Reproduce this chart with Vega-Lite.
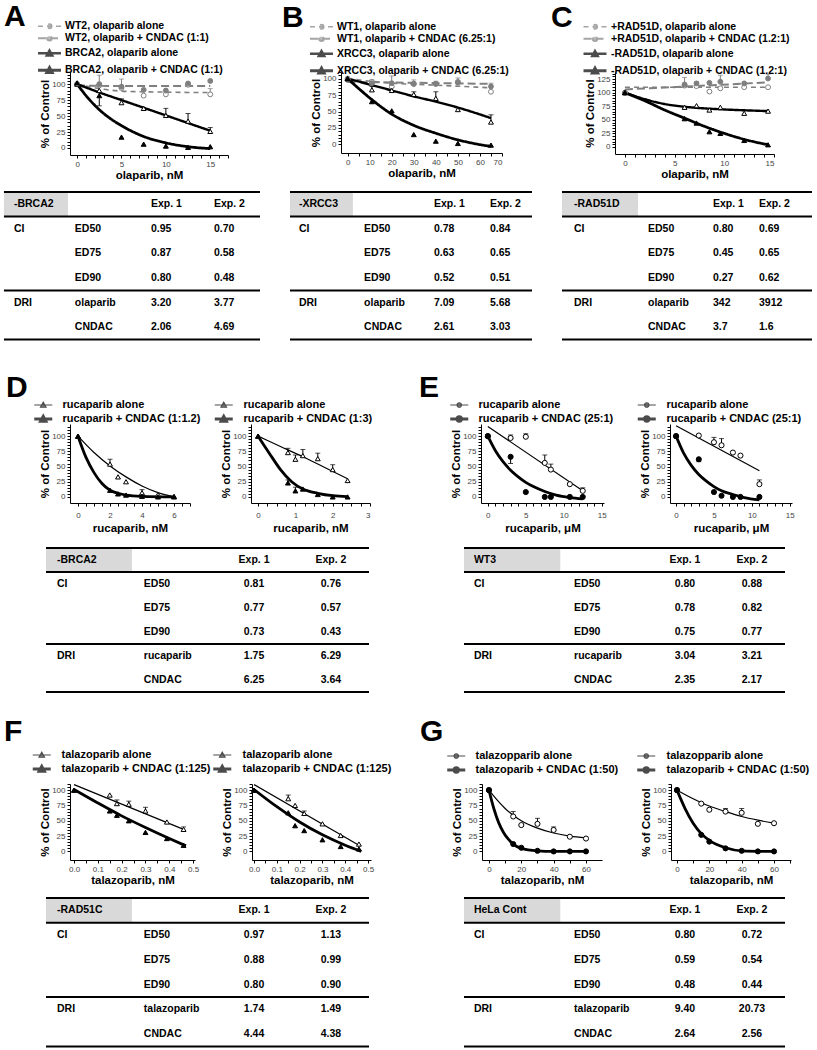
{
"$schema": "https://vega.github.io/schema/vega-lite/v6.json",
"padding": {"left": 2, "top": 2, "right": 0, "bottom": 0},
"background": "white",
"spacing": 4,
"config": {
 "font": "Liberation Sans",
 "view": {"stroke": null},
 "axis": {"labelFontSize": 8, "labelColor": "#444444", "titleFontSize": 11.5, "titleFontWeight": "bold", "titleColor": "black", "tickSize": 3, "domainColor": "black", "tickColor": "black", "labelPadding": 2, "titlePadding": 1, "grid": false, "labelOverlap": false},
 "legend": {"orient": "none", "padding": 0, "symbolSize": 36, "symbolOffset": 0, "rowPadding": 0, "labelFontWeight": "bold", "labelColor": "black", "labelLimit": 400, "direction": "vertical", "symbolStrokeWidth": 1.5},
 "title": {"fontSize": 30, "fontWeight": "bold", "color": "black", "anchor": "start", "frame": "group"}
},
"resolve": {"scale": {"color": "independent", "fill": "independent", "shape": "independent", "strokeDash": "independent", "strokeWidth": "independent"}, "legend": {"color": "independent"}},
"datasets": {
 "cA": [
  {"s":"g1","x":0,"y":100},{"s":"g1","x":2.5,"y":93},{"s":"g1","x":5,"y":89},{"s":"g1","x":7.5,"y":88},{"s":"g1","x":10,"y":87.5},{"s":"g1","x":12.5,"y":87},{"s":"g1","x":15,"y":87},
  {"s":"g2","x":0,"y":98},{"s":"g2","x":5,"y":97},{"s":"g2","x":10,"y":97},{"s":"g2","x":15,"y":97},
  {"s":"k1","x":0,"y":100},{"s":"k1","x":2.5,"y":87},{"s":"k1","x":5,"y":75},{"s":"k1","x":7.5,"y":63},{"s":"k1","x":10,"y":51},{"s":"k1","x":12.5,"y":39},{"s":"k1","x":15,"y":27},
  {"s":"k2","x":0,"y":100},{"s":"k2","x":1.25,"y":78},{"s":"k2","x":2.5,"y":60},{"s":"k2","x":3.75,"y":46},{"s":"k2","x":5,"y":35},{"s":"k2","x":7.5,"y":18},{"s":"k2","x":10,"y":8},{"s":"k2","x":12.5,"y":2},{"s":"k2","x":15,"y":-1}
 ],
 "pA": [
  {"s":"g1","x":0,"y":100},{"s":"g1","x":2.5,"y":98},{"s":"g1","x":5,"y":94},{"s":"g1","x":7.5,"y":82},{"s":"g1","x":10,"y":84},{"s":"g1","x":12.5,"y":99},{"s":"g1","x":15,"y":84,"e":93},
  {"s":"g2","x":0,"y":100},{"s":"g2","x":2.5,"y":100,"e":114},{"s":"g2","x":5,"y":96,"e":108},{"s":"g2","x":7.5,"y":91},{"s":"g2","x":10,"y":90},{"s":"g2","x":12.5,"y":101},{"s":"g2","x":15,"y":105},
  {"s":"k1","x":0,"y":100},{"s":"k1","x":2.5,"y":90},{"s":"k1","x":5,"y":71,"e":77},{"s":"k1","x":7.5,"y":62},{"s":"k1","x":10,"y":51,"e":62},{"s":"k1","x":12.5,"y":42,"e":54},{"s":"k1","x":15,"y":26,"e":32},
  {"s":"k2","x":0,"y":102},{"s":"k2","x":2.5,"y":82,"e":66},{"s":"k2","x":5,"y":17},{"s":"k2","x":7.5,"y":6},{"s":"k2","x":10,"y":3},{"s":"k2","x":12.5,"y":1},{"s":"k2","x":15,"y":2}
 ],
 "cB": [
  {"s":"g1","x":0,"y":100},{"s":"g1","x":20,"y":93},{"s":"g1","x":40,"y":90},{"s":"g1","x":65,"y":86},
  {"s":"g2","x":0,"y":95},{"s":"g2","x":65,"y":92},
  {"s":"k1","x":0,"y":100},{"s":"k1","x":10,"y":91},{"s":"k1","x":20,"y":82},{"s":"k1","x":30,"y":73},{"s":"k1","x":40,"y":65},{"s":"k1","x":50,"y":56},{"s":"k1","x":65,"y":40},
  {"s":"k2","x":0,"y":100},{"s":"k2","x":5,"y":85},{"s":"k2","x":11,"y":68},{"s":"k2","x":20,"y":46},{"s":"k2","x":30,"y":29},{"s":"k2","x":40,"y":17},{"s":"k2","x":50,"y":7},{"s":"k2","x":58,"y":1},{"s":"k2","x":65,"y":-3}
 ],
 "pB": [
  {"s":"g1","x":0,"y":100},{"s":"g1","x":11,"y":95},{"s":"g1","x":20,"y":88},{"s":"g1","x":30,"y":92},{"s":"g1","x":40,"y":92},{"s":"g1","x":50,"y":95},{"s":"g1","x":65,"y":80},
  {"s":"g2","x":0,"y":98},{"s":"g2","x":11,"y":93,"e":98},{"s":"g2","x":20,"y":93,"e":104},{"s":"g2","x":30,"y":92,"e":98},{"s":"g2","x":40,"y":92,"e":96},{"s":"g2","x":50,"y":94,"e":101},{"s":"g2","x":65,"y":88,"e":93},
  {"s":"k1","x":0,"y":100},{"s":"k1","x":11,"y":83,"e":88},{"s":"k1","x":20,"y":82,"e":87},{"s":"k1","x":30,"y":76,"e":80},{"s":"k1","x":40,"y":70,"e":80},{"s":"k1","x":50,"y":53,"e":56},{"s":"k1","x":65,"y":34,"e":45},
  {"s":"k2","x":0,"y":100},{"s":"k2","x":11,"y":65},{"s":"k2","x":20,"y":51},{"s":"k2","x":30,"y":15},{"s":"k2","x":40,"y":5},{"s":"k2","x":50,"y":1.5},{"s":"k2","x":65,"y":-1}
 ],
 "cC": [
  {"s":"g1","x":0,"y":110},{"s":"g1","x":14.4,"y":110},
  {"s":"g2","x":0,"y":106},{"s":"g2","x":7,"y":112},{"s":"g2","x":14.4,"y":119},
  {"s":"k1","x":0,"y":100},{"s":"k1","x":2,"y":88},{"s":"k1","x":4,"y":79},{"s":"k1","x":6,"y":74},{"s":"k1","x":8,"y":71},{"s":"k1","x":10,"y":69},{"s":"k1","x":12,"y":67.5},{"s":"k1","x":14.4,"y":66},
  {"s":"k2","x":0,"y":100},{"s":"k2","x":2,"y":85},{"s":"k2","x":4,"y":68},{"s":"k2","x":6,"y":53},{"s":"k2","x":8,"y":38},{"s":"k2","x":10,"y":25},{"s":"k2","x":12,"y":14},{"s":"k2","x":14.4,"y":4}
 ],
 "pC": [
  {"s":"g1","x":0,"y":100},{"s":"g1","x":6,"y":113},{"s":"g1","x":7.2,"y":112},{"s":"g1","x":8.5,"y":102},{"s":"g1","x":9.6,"y":108},{"s":"g1","x":12,"y":110},{"s":"g1","x":14.4,"y":110},
  {"s":"g2","x":0,"y":100},{"s":"g2","x":6,"y":115,"e":128},{"s":"g2","x":7.2,"y":117,"e":120},{"s":"g2","x":8.5,"y":118},{"s":"g2","x":9.6,"y":120,"e":132},{"s":"g2","x":12,"y":117},{"s":"g2","x":14.4,"y":126,"e":134},
  {"s":"k1","x":0,"y":100},{"s":"k1","x":6,"y":73},{"s":"k1","x":7.2,"y":76},{"s":"k1","x":8.5,"y":68},{"s":"k1","x":9.6,"y":73},{"s":"k1","x":12,"y":62},{"s":"k1","x":14.4,"y":66},
  {"s":"k2","x":0,"y":100},{"s":"k2","x":6,"y":52},{"s":"k2","x":7.2,"y":44},{"s":"k2","x":8.5,"y":28},{"s":"k2","x":9.6,"y":25},{"s":"k2","x":12,"y":12},{"s":"k2","x":14.4,"y":4}
 ],
 "cD1": [
  {"s":"k1","x":0,"y":100},{"s":"k1","x":1,"y":73},{"s":"k1","x":2,"y":51},{"s":"k1","x":3,"y":33},{"s":"k1","x":4,"y":18},{"s":"k1","x":5,"y":7},{"s":"k1","x":6,"y":0},
  {"s":"k2","x":0,"y":100},{"s":"k2","x":0.5,"y":65},{"s":"k2","x":1,"y":40},{"s":"k2","x":1.5,"y":22},{"s":"k2","x":2,"y":11},{"s":"k2","x":2.5,"y":6},{"s":"k2","x":3,"y":3},{"s":"k2","x":4,"y":1},{"s":"k2","x":6,"y":0}
 ],
 "pD1": [
  {"s":"k1","x":0,"y":100},{"s":"k1","x":2,"y":54,"e":62},{"s":"k1","x":2.5,"y":33},{"s":"k1","x":3,"y":25},{"s":"k1","x":4,"y":7,"e":12},{"s":"k1","x":5,"y":4},{"s":"k1","x":6,"y":1},
  {"s":"k2","x":0,"y":100},{"s":"k2","x":2,"y":11},{"s":"k2","x":2.5,"y":5},{"s":"k2","x":3,"y":3},{"s":"k2","x":4,"y":1},{"s":"k2","x":5,"y":0},{"s":"k2","x":6,"y":0}
 ],
 "cD2": [
  {"s":"k1","x":0,"y":100},{"s":"k1","x":0.6,"y":83},{"s":"k1","x":1.2,"y":66},{"s":"k1","x":1.8,"y":48},{"s":"k1","x":2.4,"y":30},
  {"s":"k2","x":0,"y":100},{"s":"k2","x":0.3,"y":72},{"s":"k2","x":0.6,"y":45},{"s":"k2","x":0.9,"y":25},{"s":"k2","x":1.2,"y":13},{"s":"k2","x":1.6,"y":6},{"s":"k2","x":2,"y":2},{"s":"k2","x":2.4,"y":0.5}
 ],
 "pD2": [
  {"s":"k1","x":0,"y":100},{"s":"k1","x":0.8,"y":73,"e":80},{"s":"k1","x":1,"y":62,"e":69},{"s":"k1","x":1.2,"y":68,"e":78},{"s":"k1","x":1.6,"y":63,"e":72},{"s":"k1","x":2,"y":45,"e":53},{"s":"k1","x":2.4,"y":27},
  {"s":"k2","x":0,"y":100},{"s":"k2","x":0.8,"y":23,"e":28},{"s":"k2","x":1,"y":10,"e":16},{"s":"k2","x":1.2,"y":13},{"s":"k2","x":1.6,"y":4},{"s":"k2","x":2,"y":0},{"s":"k2","x":2.4,"y":0}
 ],
 "cE1": [
  {"s":"k1","x":0,"y":116},{"s":"k1","x":12.5,"y":10},
  {"s":"k2","x":0,"y":100},{"s":"k2","x":1,"y":76},{"s":"k2","x":2,"y":58},{"s":"k2","x":3,"y":44},{"s":"k2","x":4,"y":33},{"s":"k2","x":5,"y":24},{"s":"k2","x":6,"y":17},{"s":"k2","x":7.5,"y":9},{"s":"k2","x":9,"y":3},{"s":"k2","x":10.8,"y":-1},{"s":"k2","x":12.5,"y":-3}
 ],
 "pE1": [
  {"s":"k1","x":0,"y":100},{"s":"k1","x":3,"y":97,"e":102},{"s":"k1","x":5,"y":99,"e":104},{"s":"k1","x":7.5,"y":56,"e":69},{"s":"k1","x":8.3,"y":45,"e":54},{"s":"k1","x":10.8,"y":21},{"s":"k1","x":12.5,"y":10,"e":15},
  {"s":"k2","x":0,"y":100},{"s":"k2","x":3,"y":66,"e":55},{"s":"k2","x":5,"y":8},{"s":"k2","x":7.5,"y":0},{"s":"k2","x":8.3,"y":0},{"s":"k2","x":10.8,"y":0},{"s":"k2","x":12.5,"y":0}
 ],
 "cE2": [
  {"s":"k1","x":0,"y":117},{"s":"k1","x":11,"y":43},
  {"s":"k2","x":0,"y":100},{"s":"k2","x":1,"y":72},{"s":"k2","x":2,"y":52},{"s":"k2","x":3,"y":37},{"s":"k2","x":4,"y":26},{"s":"k2","x":5,"y":17},{"s":"k2","x":6,"y":10},{"s":"k2","x":7.5,"y":4},{"s":"k2","x":9,"y":-1},{"s":"k2","x":11,"y":-5}
 ],
 "pE2": [
  {"s":"k1","x":0,"y":100},{"s":"k1","x":3,"y":101},{"s":"k1","x":5,"y":90,"e":98},{"s":"k1","x":6,"y":85,"e":96},{"s":"k1","x":7.5,"y":73},{"s":"k1","x":8.5,"y":68},{"s":"k1","x":11,"y":21,"e":28},
  {"s":"k2","x":0,"y":100},{"s":"k2","x":3,"y":62,"e":58},{"s":"k2","x":5,"y":8},{"s":"k2","x":6,"y":2},{"s":"k2","x":7.5,"y":0},{"s":"k2","x":8.5,"y":0},{"s":"k2","x":11,"y":0}
 ],
 "cF1": [
  {"s":"k1","x":0,"y":109},{"s":"k1","x":0.46,"y":36},
  {"s":"k2","x":0,"y":101},{"s":"k2","x":0.1,"y":79},{"s":"k2","x":0.2,"y":58},{"s":"k2","x":0.3,"y":39},{"s":"k2","x":0.4,"y":21},{"s":"k2","x":0.47,"y":9}
 ],
 "pF1": [
  {"s":"k1","x":0,"y":100},{"s":"k1","x":0.15,"y":92},{"s":"k1","x":0.18,"y":78,"e":84},{"s":"k1","x":0.23,"y":77,"e":82},{"s":"k1","x":0.3,"y":66,"e":72},{"s":"k1","x":0.39,"y":48},{"s":"k1","x":0.46,"y":36,"e":40},
  {"s":"k2","x":0,"y":100},{"s":"k2","x":0.15,"y":66},{"s":"k2","x":0.18,"y":59},{"s":"k2","x":0.23,"y":50},{"s":"k2","x":0.3,"y":31},{"s":"k2","x":0.39,"y":21},{"s":"k2","x":0.46,"y":10}
 ],
 "cF2": [
  {"s":"k1","x":0,"y":109},{"s":"k1","x":0.46,"y":10},
  {"s":"k2","x":0,"y":101},{"s":"k2","x":0.1,"y":73},{"s":"k2","x":0.2,"y":48},{"s":"k2","x":0.3,"y":27},{"s":"k2","x":0.4,"y":10},{"s":"k2","x":0.47,"y":0}
 ],
 "pF2": [
  {"s":"k1","x":0,"y":100},{"s":"k1","x":0.15,"y":86,"e":92},{"s":"k1","x":0.18,"y":75},{"s":"k1","x":0.22,"y":62,"e":66},{"s":"k1","x":0.3,"y":45},{"s":"k1","x":0.38,"y":26},{"s":"k1","x":0.46,"y":12},
  {"s":"k2","x":0,"y":100},{"s":"k2","x":0.15,"y":63},{"s":"k2","x":0.18,"y":42},{"s":"k2","x":0.22,"y":34},{"s":"k2","x":0.3,"y":19},{"s":"k2","x":0.38,"y":8},{"s":"k2","x":0.46,"y":4}
 ],
 "cG1": [
  {"s":"k1","x":0,"y":100},{"s":"k1","x":5,"y":84},{"s":"k1","x":10,"y":70},{"s":"k1","x":15,"y":59},{"s":"k1","x":20,"y":50},{"s":"k1","x":30,"y":38},{"s":"k1","x":40,"y":30},{"s":"k1","x":50,"y":25},{"s":"k1","x":60,"y":22},
  {"s":"k2","x":0,"y":100},{"s":"k2","x":3,"y":70},{"s":"k2","x":6,"y":47},{"s":"k2","x":9,"y":31},{"s":"k2","x":12,"y":20},{"s":"k2","x":15,"y":12},{"s":"k2","x":20,"y":5},{"s":"k2","x":30,"y":1},{"s":"k2","x":40,"y":0},{"s":"k2","x":60,"y":0}
 ],
 "pG1": [
  {"s":"k1","x":0,"y":100},{"s":"k1","x":15,"y":57,"e":65},{"s":"k1","x":20,"y":43},{"s":"k1","x":30,"y":45,"e":54},{"s":"k1","x":40,"y":35,"e":40},{"s":"k1","x":50,"y":24},{"s":"k1","x":60,"y":21},
  {"s":"k2","x":0,"y":100},{"s":"k2","x":15,"y":12},{"s":"k2","x":20,"y":6},{"s":"k2","x":30,"y":1},{"s":"k2","x":40,"y":0},{"s":"k2","x":50,"y":0},{"s":"k2","x":60,"y":0}
 ],
 "cG2": [
  {"s":"k1","x":0,"y":100},{"s":"k1","x":10,"y":86},{"s":"k1","x":20,"y":74},{"s":"k1","x":30,"y":65},{"s":"k1","x":40,"y":57},{"s":"k1","x":50,"y":51},{"s":"k1","x":60,"y":46},
  {"s":"k2","x":0,"y":100},{"s":"k2","x":5,"y":70},{"s":"k2","x":10,"y":46},{"s":"k2","x":15,"y":29},{"s":"k2","x":20,"y":18},{"s":"k2","x":30,"y":6},{"s":"k2","x":40,"y":1},{"s":"k2","x":60,"y":0}
 ],
 "pG2": [
  {"s":"k1","x":0,"y":100},{"s":"k1","x":15,"y":78},{"s":"k1","x":20,"y":68},{"s":"k1","x":30,"y":65,"e":70},{"s":"k1","x":40,"y":63,"e":70},{"s":"k1","x":50,"y":45},{"s":"k1","x":60,"y":46},
  {"s":"k2","x":0,"y":100},{"s":"k2","x":15,"y":27},{"s":"k2","x":20,"y":16},{"s":"k2","x":30,"y":5},{"s":"k2","x":40,"y":1},{"s":"k2","x":50,"y":0},{"s":"k2","x":60,"y":0}
 ],
 "tA": [{"r":0,"a":"-BRCA2","b":"","e1":"Exp. 1","e2":"Exp. 2"},{"r":1,"a":"CI","b":"ED50","e1":"0.95","e2":"0.70"},{"r":2,"a":"","b":"ED75","e1":"0.87","e2":"0.58"},{"r":3,"a":"","b":"ED90","e1":"0.80","e2":"0.48"},{"r":4,"a":"DRI","b":"olaparib","e1":"3.20","e2":"3.77"},{"r":5,"a":"","b":"CNDAC","e1":"2.06","e2":"4.69"}],
 "tB": [{"r":0,"a":"-XRCC3","b":"","e1":"Exp. 1","e2":"Exp. 2"},{"r":1,"a":"CI","b":"ED50","e1":"0.78","e2":"0.84"},{"r":2,"a":"","b":"ED75","e1":"0.63","e2":"0.65"},{"r":3,"a":"","b":"ED90","e1":"0.52","e2":"0.51"},{"r":4,"a":"DRI","b":"olaparib","e1":"7.09","e2":"5.68"},{"r":5,"a":"","b":"CNDAC","e1":"2.61","e2":"3.03"}],
 "tC": [{"r":0,"a":"-RAD51D","b":"","e1":"Exp. 1","e2":"Exp. 2"},{"r":1,"a":"CI","b":"ED50","e1":"0.80","e2":"0.69"},{"r":2,"a":"","b":"ED75","e1":"0.45","e2":"0.65"},{"r":3,"a":"","b":"ED90","e1":"0.27","e2":"0.62"},{"r":4,"a":"DRI","b":"olaparib","e1":"342","e2":"3912"},{"r":5,"a":"","b":"CNDAC","e1":"3.7","e2":"1.6"}],
 "tD": [{"r":0,"a":"-BRCA2","b":"","e1":"Exp. 1","e2":"Exp. 2"},{"r":1,"a":"CI","b":"ED50","e1":"0.81","e2":"0.76"},{"r":2,"a":"","b":"ED75","e1":"0.77","e2":"0.57"},{"r":3,"a":"","b":"ED90","e1":"0.73","e2":"0.43"},{"r":4,"a":"DRI","b":"rucaparib","e1":"1.75","e2":"6.29"},{"r":5,"a":"","b":"CNDAC","e1":"6.25","e2":"3.64"}],
 "tE": [{"r":0,"a":"WT3","b":"","e1":"Exp. 1","e2":"Exp. 2"},{"r":1,"a":"CI","b":"ED50","e1":"0.80","e2":"0.88"},{"r":2,"a":"","b":"ED75","e1":"0.78","e2":"0.82"},{"r":3,"a":"","b":"ED90","e1":"0.75","e2":"0.77"},{"r":4,"a":"DRI","b":"rucaparib","e1":"3.04","e2":"3.21"},{"r":5,"a":"","b":"CNDAC","e1":"2.35","e2":"2.17"}],
 "tF": [{"r":0,"a":"-RAD51C","b":"","e1":"Exp. 1","e2":"Exp. 2"},{"r":1,"a":"CI","b":"ED50","e1":"0.97","e2":"1.13"},{"r":2,"a":"","b":"ED75","e1":"0.88","e2":"0.99"},{"r":3,"a":"","b":"ED90","e1":"0.80","e2":"0.90"},{"r":4,"a":"DRI","b":"talazoparib","e1":"1.74","e2":"1.49"},{"r":5,"a":"","b":"CNDAC","e1":"4.44","e2":"4.38"}],
 "tG": [{"r":0,"a":"HeLa Cont","b":"","e1":"Exp. 1","e2":"Exp. 2"},{"r":1,"a":"CI","b":"ED50","e1":"0.80","e2":"0.72"},{"r":2,"a":"","b":"ED75","e1":"0.59","e2":"0.54"},{"r":3,"a":"","b":"ED90","e1":"0.48","e2":"0.44"},{"r":4,"a":"DRI","b":"talazoparib","e1":"9.40","e2":"20.73"},{"r":5,"a":"","b":"CNDAC","e1":"2.64","e2":"2.56"}],
 "lines": [{"lb":-0.5},{"lb":0.5},{"lb":3.5},{"lb":5.5}],
 "box": [{"lb":-0.5}]
},
"vconcat": [
 {"hconcat": [
  {"width":158,"height":83,
   "title":{"text":"A","offset":-11,"dx":-66},
   "encoding":{
    "x":{"field":"x","type":"quantitative","title":"olaparib, nM","scale":{"domain":[-0.8,17],"nice":false,"zero":false},"axis":{"values":[0,1,2,3,4,5,6,7,8,9,10,11,12,13,14,15,16,17],"labelExpr":"datum.value % 5 == 0 ? datum.label : ''"}},
    "y":{"field":"y","type":"quantitative","title":"% of Control","scale":{"domain":[-11,119],"nice":false,"zero":false},"axis":{"values":[0,5,10,15,20,25,30,35,40,45,50,55,60,65,70,75,80,85,90,95,100,105,110,115],"labelExpr":"datum.value % 25 == 0 ? datum.label : ''"}},
    "color":{"field":"s","type":"nominal","scale":{"domain":["g1","g2","k1","k2"],"range":["#7f7f7f","#7f7f7f","#000000","#000000"]},
     "legend":{"legendX":-25.75,"legendY":-51,"title":null,"labelOffset":10.25,"labelFontSize":10.5,
      "labelExpr":"datum.value=='g1'?'WT2, olaparib alone':datum.value=='g2'?'WT2, olaparib + CNDAC  (1:1)':datum.value=='k1'?'BRCA2, olaparib alone':'BRCA2, olaparib + CNDAC (1:1)'"}}
   },
   "layer":[
    {"data":{"name":"cA"},"mark":{"type":"line","interpolate":"monotone"},"encoding":{"strokeDash":{"field":"s","type":"nominal","scale":{"domain":["g1","g2","k1","k2"],"range":[[5,4],[8,4],[1,0],[1,0]]},"legend":null},"strokeWidth":{"field":"s","type":"nominal","scale":{"domain":["g1","g2","k1","k2"],"range":[1.6,2.8,1.2,2.6]},"legend":null}}},
    {"data":{"name":"cA"},"mark":{"type":"point","size":0},"encoding":{"shape":{"field":"s","type":"nominal","scale":{"domain":["g1","g2","k1","k2"],"range":["M-3.83,0H3.83M0.75,0A0.75,0.75,0,1,1,-0.75,0A0.75,0.75,0,1,1,0.75,0Z","M-3.83,0H3.83M0.75,0A0.75,0.75,0,1,1,-0.75,0A0.75,0.75,0,1,1,0.75,0Z","M-3.83,0H3.83M-0.92,0.75L0,-0.92L0.92,0.75Z","M-3.83,0H3.83M-0.92,0.75L0,-0.92L0.92,0.75Z"]},"legend":null},"fill":{"field":"s","type":"nominal","scale":{"domain":["g1","g2","k1","k2"],"range":["#ffffff","#7f7f7f","#ffffff","#000000"]},"legend":null}}},
    {"data":{"name":"pA"},"transform":[{"filter":"isValid(datum.e)"}],"mark":{"type":"rule","strokeWidth":1},"encoding":{"y2":{"field":"e"}}},
    {"data":{"name":"pA"},"transform":[{"filter":"isValid(datum.e)"}],"mark":{"type":"tick","orient":"horizontal","size":5,"thickness":1},"encoding":{"y":{"field":"e","type":"quantitative","title":"% of Control","scale":{"domain":[-11,119],"nice":false,"zero":false}}}},
    {"data":{"name":"pA"},"mark":{"type":"point","size":24,"strokeWidth":1,"opacity":1},"encoding":{"shape":{"condition":{"test":"test(/^g/, datum.s)","value":"circle"},"value":"triangle-up"},"fill":{"condition":[{"test":"test(/1$/, datum.s)","value":"#ffffff"},{"test":"datum.s=='g2'","value":"#7f7f7f"}],"value":"#000000"}}}
   ]},
  {"width":161,"height":81,
   "title":{"text":"B","offset":-11,"dx":-59},
   "encoding":{
    "x":{"field":"x","type":"quantitative","title":"olaparib, nM","scale":{"domain":[-3,70],"nice":false,"zero":false},"axis":{"values":[0,5,10,15,20,25,30,35,40,45,50,55,60,65,70],"labelExpr":"datum.value % 10 == 0 ? datum.label : ''"}},
    "y":{"field":"y","type":"quantitative","title":"% of Control","scale":{"domain":[-13,110],"nice":false,"zero":false},"axis":{"values":[0,5,10,15,20,25,30,35,40,45,50,55,60,65,70,75,80,85,90,95,100,105,110],"labelExpr":"datum.value % 25 == 0 ? datum.label : ''"}},
    "color":{"field":"s","type":"nominal","scale":{"domain":["g1","g2","k1","k2"],"range":["#7f7f7f","#7f7f7f","#000000","#000000"]},
     "legend":{"legendX":-24.75,"legendY":-50.5,"title":null,"labelOffset":10.25,"labelFontSize":10.5,
      "labelExpr":"datum.value=='g1'?'WT1, olaparib alone':datum.value=='g2'?'WT1, olaparib + CNDAC  (6.25:1)':datum.value=='k1'?'XRCC3, olaparib alone':'XRCC3, olaparib + CNDAC (6.25:1)'"}}
   },
   "layer":[
    {"data":{"name":"cB"},"mark":{"type":"line","interpolate":"monotone"},"encoding":{"strokeDash":{"field":"s","type":"nominal","scale":{"domain":["g1","g2","k1","k2"],"range":[[5,4],[8,4],[1,0],[1,0]]},"legend":null},"strokeWidth":{"field":"s","type":"nominal","scale":{"domain":["g1","g2","k1","k2"],"range":[1.6,2.8,1.2,2.6]},"legend":null}}},
    {"data":{"name":"cB"},"mark":{"type":"point","size":0},"encoding":{"shape":{"field":"s","type":"nominal","scale":{"domain":["g1","g2","k1","k2"],"range":["M-3.83,0H3.83M0.75,0A0.75,0.75,0,1,1,-0.75,0A0.75,0.75,0,1,1,0.75,0Z","M-3.83,0H3.83M0.75,0A0.75,0.75,0,1,1,-0.75,0A0.75,0.75,0,1,1,0.75,0Z","M-3.83,0H3.83M-0.92,0.75L0,-0.92L0.92,0.75Z","M-3.83,0H3.83M-0.92,0.75L0,-0.92L0.92,0.75Z"]},"legend":null},"fill":{"field":"s","type":"nominal","scale":{"domain":["g1","g2","k1","k2"],"range":["#ffffff","#7f7f7f","#ffffff","#000000"]},"legend":null}}},
    {"data":{"name":"pB"},"transform":[{"filter":"isValid(datum.e)"}],"mark":{"type":"rule","strokeWidth":1},"encoding":{"y2":{"field":"e"}}},
    {"data":{"name":"pB"},"transform":[{"filter":"isValid(datum.e)"}],"mark":{"type":"tick","orient":"horizontal","size":5,"thickness":1},"encoding":{"y":{"field":"e","type":"quantitative","title":"% of Control","scale":{"domain":[-13,110],"nice":false,"zero":false}}}},
    {"data":{"name":"pB"},"mark":{"type":"point","size":24,"strokeWidth":1,"opacity":1},"encoding":{"shape":{"condition":{"test":"test(/^g/, datum.s)","value":"circle"},"value":"triangle-up"},"fill":{"condition":[{"test":"test(/1$/, datum.s)","value":"#ffffff"},{"test":"datum.s=='g2'","value":"#7f7f7f"}],"value":"#000000"}}}
   ]},
  {"width":159,"height":82,
   "title":{"text":"C","offset":-11,"dx":-64},
   "encoding":{
    "x":{"field":"x","type":"quantitative","title":"olaparib, nM","scale":{"domain":[-1,15],"nice":false,"zero":false},"axis":{"values":[0,1,2,3,4,5,6,7,8,9,10,11,12,13,14,15],"labelExpr":"datum.value % 5 == 0 ? datum.label : ''"}},
    "y":{"field":"y","type":"quantitative","title":"% of Control","scale":{"domain":[-13,138],"nice":false,"zero":false},"axis":{"values":[0,5,10,15,20,25,30,35,40,45,50,55,60,65,70,75,80,85,90,95,100,105,110,115,120,125,130,135],"labelExpr":"datum.value % 25 == 0 ? datum.label : ''"}},
    "color":{"field":"s","type":"nominal","scale":{"domain":["g1","g2","k1","k2"],"range":["#7f7f7f","#7f7f7f","#000000","#000000"]},
     "legend":{"legendX":-25.25,"legendY":-50.5,"title":null,"labelOffset":10.75,"labelFontSize":10.5,
      "labelExpr":"datum.value=='g1'?'+RAD51D, olaparib alone':datum.value=='g2'?'+RAD51D, olaparib + CNDAC  (1.2:1)':datum.value=='k1'?'-RAD51D, olaparib alone':'-RAD51D, olaparib + CNDAC (1.2:1)'"}}
   },
   "layer":[
    {"data":{"name":"cC"},"mark":{"type":"line","interpolate":"monotone"},"encoding":{"strokeDash":{"field":"s","type":"nominal","scale":{"domain":["g1","g2","k1","k2"],"range":[[5,4],[8,4],[1,0],[1,0]]},"legend":null},"strokeWidth":{"field":"s","type":"nominal","scale":{"domain":["g1","g2","k1","k2"],"range":[1.6,2.8,1.2,2.6]},"legend":null}}},
    {"data":{"name":"cC"},"mark":{"type":"point","size":0},"encoding":{"shape":{"field":"s","type":"nominal","scale":{"domain":["g1","g2","k1","k2"],"range":["M-3.83,0H3.83M0.75,0A0.75,0.75,0,1,1,-0.75,0A0.75,0.75,0,1,1,0.75,0Z","M-3.83,0H3.83M0.75,0A0.75,0.75,0,1,1,-0.75,0A0.75,0.75,0,1,1,0.75,0Z","M-3.83,0H3.83M-0.92,0.75L0,-0.92L0.92,0.75Z","M-3.83,0H3.83M-0.92,0.75L0,-0.92L0.92,0.75Z"]},"legend":null},"fill":{"field":"s","type":"nominal","scale":{"domain":["g1","g2","k1","k2"],"range":["#ffffff","#7f7f7f","#ffffff","#000000"]},"legend":null}}},
    {"data":{"name":"pC"},"transform":[{"filter":"isValid(datum.e)"}],"mark":{"type":"rule","strokeWidth":1},"encoding":{"y2":{"field":"e"}}},
    {"data":{"name":"pC"},"transform":[{"filter":"isValid(datum.e)"}],"mark":{"type":"tick","orient":"horizontal","size":5,"thickness":1},"encoding":{"y":{"field":"e","type":"quantitative","title":"% of Control","scale":{"domain":[-13,138],"nice":false,"zero":false}}}},
    {"data":{"name":"pC"},"mark":{"type":"point","size":24,"strokeWidth":1,"opacity":1},"encoding":{"shape":{"condition":{"test":"test(/^g/, datum.s)","value":"circle"},"value":"triangle-up"},"fill":{"condition":[{"test":"test(/1$/, datum.s)","value":"#ffffff"},{"test":"datum.s=='g2'","value":"#7f7f7f"}],"value":"#000000"}}}
   ]}
 ], "spacing":113, "bounds":"flush",
 "resolve": {"scale": {"color": "independent", "fill": "independent", "shape": "independent", "strokeDash": "independent", "strokeWidth": "independent"}, "legend": {"color": "independent"}}},

 {"hconcat": [
  {"width":190,"height":183,"layer":[
   {"data":{"name":"box"},"mark":{"type":"rect","color":"#d9d9d9"},"encoding":{"x":{"datum":0,"type":"quantitative","scale":{"domain":[25.8,100]},"axis":null},"x2":{"datum":25},"y":{"field":"lb","type":"quantitative","scale":{"domain":[-0.784,6.655],"reverse":true},"axis":null},"y2":{"datum":0.5}}},
   {"data":{"name":"lines"},"mark":{"type":"rule","strokeWidth":2,"color":"black"},"encoding":{"x":{"datum":0,"type":"quantitative","scale":{"domain":[25.8,100]},"axis":null},"x2":{"datum":100},"y":{"field":"lb","type":"quantitative","scale":{"domain":[-0.784,6.655],"reverse":true},"axis":null}}},
   {"data":{"name":"tA"},"mark":{"type":"text","align":"left","baseline":"middle","fontWeight":"bold","fontSize":10.5},"encoding":{"x":{"datum":3.9,"type":"quantitative","scale":{"domain":[25.8,100]},"axis":null},"y":{"field":"r","type":"quantitative","scale":{"domain":[-0.784,6.655],"reverse":true},"axis":null},"text":{"field":"a"}}},
   {"data":{"name":"tA"},"mark":{"type":"text","align":"left","baseline":"middle","fontWeight":"bold","fontSize":10.5},"encoding":{"x":{"datum":27.7,"type":"quantitative","scale":{"domain":[25.8,100]},"axis":null},"y":{"field":"r","type":"quantitative","scale":{"domain":[-0.784,6.655],"reverse":true},"axis":null},"text":{"field":"b"}}},
   {"data":{"name":"tA"},"mark":{"type":"text","align":"left","baseline":"middle","fontWeight":"bold","fontSize":10.5},"encoding":{"x":{"datum":57.4,"type":"quantitative","scale":{"domain":[25.8,100]},"axis":null},"y":{"field":"r","type":"quantitative","scale":{"domain":[-0.784,6.655],"reverse":true},"axis":null},"text":{"field":"e1"}}},
   {"data":{"name":"tA"},"mark":{"type":"text","align":"left","baseline":"middle","fontWeight":"bold","fontSize":10.5},"encoding":{"x":{"datum":82,"type":"quantitative","scale":{"domain":[25.8,100]},"axis":null},"y":{"field":"r","type":"quantitative","scale":{"domain":[-0.784,6.655],"reverse":true},"axis":null},"text":{"field":"e2"}}}
  ]},
  {"width":242,"height":183,"layer":[
   {"data":{"name":"box"},"mark":{"type":"rect","color":"#d9d9d9"},"encoding":{"x":{"datum":0,"type":"quantitative","scale":{"domain":[0,100]},"axis":null},"x2":{"datum":26},"y":{"field":"lb","type":"quantitative","scale":{"domain":[-0.784,6.655],"reverse":true},"axis":null},"y2":{"datum":0.5}}},
   {"data":{"name":"lines"},"mark":{"type":"rule","strokeWidth":2,"color":"black"},"encoding":{"x":{"datum":0,"type":"quantitative","scale":{"domain":[0,100]},"axis":null},"x2":{"datum":100},"y":{"field":"lb","type":"quantitative","scale":{"domain":[-0.784,6.655],"reverse":true},"axis":null}}},
   {"data":{"name":"tB"},"mark":{"type":"text","align":"left","baseline":"middle","fontWeight":"bold","fontSize":10.5},"encoding":{"x":{"datum":3.7,"type":"quantitative","scale":{"domain":[0,100]},"axis":null},"y":{"field":"r","type":"quantitative","scale":{"domain":[-0.784,6.655],"reverse":true},"axis":null},"text":{"field":"a"}}},
   {"data":{"name":"tB"},"mark":{"type":"text","align":"left","baseline":"middle","fontWeight":"bold","fontSize":10.5},"encoding":{"x":{"datum":30.6,"type":"quantitative","scale":{"domain":[0,100]},"axis":null},"y":{"field":"r","type":"quantitative","scale":{"domain":[-0.784,6.655],"reverse":true},"axis":null},"text":{"field":"b"}}},
   {"data":{"name":"tB"},"mark":{"type":"text","align":"left","baseline":"middle","fontWeight":"bold","fontSize":10.5},"encoding":{"x":{"datum":59.5,"type":"quantitative","scale":{"domain":[0,100]},"axis":null},"y":{"field":"r","type":"quantitative","scale":{"domain":[-0.784,6.655],"reverse":true},"axis":null},"text":{"field":"e1"}}},
   {"data":{"name":"tB"},"mark":{"type":"text","align":"left","baseline":"middle","fontWeight":"bold","fontSize":10.5},"encoding":{"x":{"datum":82.6,"type":"quantitative","scale":{"domain":[0,100]},"axis":null},"y":{"field":"r","type":"quantitative","scale":{"domain":[-0.784,6.655],"reverse":true},"axis":null},"text":{"field":"e2"}}}
  ]},
  {"width":250,"height":183,"layer":[
   {"data":{"name":"box"},"mark":{"type":"rect","color":"#d9d9d9"},"encoding":{"x":{"datum":0,"type":"quantitative","scale":{"domain":[0,100]},"axis":null},"x2":{"datum":30.4},"y":{"field":"lb","type":"quantitative","scale":{"domain":[-0.784,6.655],"reverse":true},"axis":null},"y2":{"datum":0.5}}},
   {"data":{"name":"lines"},"mark":{"type":"rule","strokeWidth":2,"color":"black"},"encoding":{"x":{"datum":0,"type":"quantitative","scale":{"domain":[0,100]},"axis":null},"x2":{"datum":100},"y":{"field":"lb","type":"quantitative","scale":{"domain":[-0.784,6.655],"reverse":true},"axis":null}}},
   {"data":{"name":"tC"},"mark":{"type":"text","align":"left","baseline":"middle","fontWeight":"bold","fontSize":10.5},"encoding":{"x":{"datum":4.8,"type":"quantitative","scale":{"domain":[0,100]},"axis":null},"y":{"field":"r","type":"quantitative","scale":{"domain":[-0.784,6.655],"reverse":true},"axis":null},"text":{"field":"a"}}},
   {"data":{"name":"tC"},"mark":{"type":"text","align":"left","baseline":"middle","fontWeight":"bold","fontSize":10.5},"encoding":{"x":{"datum":34.4,"type":"quantitative","scale":{"domain":[0,100]},"axis":null},"y":{"field":"r","type":"quantitative","scale":{"domain":[-0.784,6.655],"reverse":true},"axis":null},"text":{"field":"b"}}},
   {"data":{"name":"tC"},"mark":{"type":"text","align":"left","baseline":"middle","fontWeight":"bold","fontSize":10.5},"encoding":{"x":{"datum":60.4,"type":"quantitative","scale":{"domain":[0,100]},"axis":null},"y":{"field":"r","type":"quantitative","scale":{"domain":[-0.784,6.655],"reverse":true},"axis":null},"text":{"field":"e1"}}},
   {"data":{"name":"tC"},"mark":{"type":"text","align":"left","baseline":"middle","fontWeight":"bold","fontSize":10.5},"encoding":{"x":{"datum":78.8,"type":"quantitative","scale":{"domain":[0,100]},"axis":null},"y":{"field":"r","type":"quantitative","scale":{"domain":[-0.784,6.655],"reverse":true},"axis":null},"text":{"field":"e2"}}}
  ]}
 ], "spacing":30, "bounds":"flush"},

 {"hconcat": [
  {"hconcat": [
   {"width":120,"height":79,
    "title":{"text":"D","offset":-3,"dx":-64},
    "encoding":{
     "x":{"field":"x","type":"quantitative","title":"rucaparib, nM","scale":{"domain":[-0.5,7],"nice":false,"zero":false},"axis":{"values":[0,0.5,1,1.5,2,2.5,3,3.5,4,4.5,5,5.5,6,6.5,7],"labelExpr":"datum.value % 2 == 0 ? toString(datum.value) : ''","labelPadding":5,"titlePadding":3}},
     "y":{"field":"y","type":"quantitative","title":"% of Control","scale":{"domain":[-10,120],"nice":false,"zero":false},"axis":{"values":[0,5,10,15,20,25,30,35,40,45,50,55,60,65,70,75,80,85,90,95,100,105,110,115],"labelExpr":"datum.value % 25 == 0 ? datum.label : ''"}},
     "color":{"field":"s","type":"nominal","scale":{"domain":["k1","k2"],"range":["#000000","#000000"]},
      "legend":{"legendX":-32.25,"legendY":-24.5,"title":null,"labelOffset":13.75,"labelFontSize":11,
       "labelExpr":"datum.value=='k1'?'rucaparib alone':'rucaparib + CNDAC (1:1.2)'"}}
    },
    "layer":[
     {"data":{"name":"cD1"},"mark":{"type":"line","interpolate":"monotone"},"encoding":{"strokeWidth":{"field":"s","type":"nominal","scale":{"domain":["k1","k2"],"range":[1.2,2.8]},"legend":null}}},
     {"data":{"name":"cD1"},"mark":{"type":"point","size":0},"encoding":{"shape":{"field":"s","type":"nominal","scale":{"domain":["k1","k2"],"range":["M-3,0H3M-0.92,0.75L0,-0.92L0.92,0.75Z","M-3,0H3M-0.92,0.75L0,-0.92L0.92,0.75Z"]},"legend":null},"fill":{"field":"s","type":"nominal","scale":{"domain":["k1","k2"],"range":["#ffffff","#000000"]},"legend":null}}},
     {"data":{"name":"pD1"},"transform":[{"filter":"isValid(datum.e)"}],"mark":{"type":"rule","strokeWidth":1},"encoding":{"y2":{"field":"e"}}},
     {"data":{"name":"pD1"},"transform":[{"filter":"isValid(datum.e)"}],"mark":{"type":"tick","orient":"horizontal","size":5,"thickness":1},"encoding":{"y":{"field":"e","type":"quantitative","title":"% of Control","scale":{"domain":[-10,120],"nice":false,"zero":false}}}},
     {"data":{"name":"pD1"},"mark":{"type":"point","size":24,"strokeWidth":1,"opacity":1,"shape":"triangle-up"},"encoding":{"fill":{"condition":{"test":"datum.s=='k1'","value":"#ffffff"},"value":"#000000"}}}
    ]},
   {"width":119,"height":79,
    "encoding":{
     "x":{"field":"x","type":"quantitative","title":"rucaparib, nM","scale":{"domain":[-0.19,3],"nice":false,"zero":false},"axis":{"values":[0,0.25,0.5,0.75,1,1.25,1.5,1.75,2,2.25,2.5,2.75,3],"labelExpr":"datum.value % 1 == 0 ? toString(datum.value) : ''","labelPadding":5,"titlePadding":3}},
     "y":{"field":"y","type":"quantitative","title":"% of Control","scale":{"domain":[-10,120],"nice":false,"zero":false},"axis":{"values":[0,5,10,15,20,25,30,35,40,45,50,55,60,65,70,75,80,85,90,95,100,105,110,115],"labelExpr":"datum.value % 25 == 0 ? datum.label : ''"}},
     "color":{"field":"s","type":"nominal","scale":{"domain":["k1","k2"],"range":["#000000","#000000"]},
      "legend":{"legendX":-32.75,"legendY":-24.5,"title":null,"labelOffset":14.25,"labelFontSize":11,
       "labelExpr":"datum.value=='k1'?'rucaparib alone':'rucaparib + CNDAC (1:3)'"}}
    },
    "layer":[
     {"data":{"name":"cD2"},"mark":{"type":"line","interpolate":"monotone"},"encoding":{"strokeWidth":{"field":"s","type":"nominal","scale":{"domain":["k1","k2"],"range":[1.2,2.8]},"legend":null}}},
     {"data":{"name":"cD2"},"mark":{"type":"point","size":0},"encoding":{"shape":{"field":"s","type":"nominal","scale":{"domain":["k1","k2"],"range":["M-3,0H3M-0.92,0.75L0,-0.92L0.92,0.75Z","M-3,0H3M-0.92,0.75L0,-0.92L0.92,0.75Z"]},"legend":null},"fill":{"field":"s","type":"nominal","scale":{"domain":["k1","k2"],"range":["#ffffff","#000000"]},"legend":null}}},
     {"data":{"name":"pD2"},"transform":[{"filter":"isValid(datum.e)"}],"mark":{"type":"rule","strokeWidth":1},"encoding":{"y2":{"field":"e"}}},
     {"data":{"name":"pD2"},"transform":[{"filter":"isValid(datum.e)"}],"mark":{"type":"tick","orient":"horizontal","size":5,"thickness":1},"encoding":{"y":{"field":"e","type":"quantitative","title":"% of Control","scale":{"domain":[-10,120],"nice":false,"zero":false}}}},
     {"data":{"name":"pD2"},"mark":{"type":"point","size":24,"strokeWidth":1,"opacity":1,"shape":"triangle-up"},"encoding":{"fill":{"condition":{"test":"datum.s=='k1'","value":"#ffffff"},"value":"#000000"}}}
    ]}
  ], "spacing":61, "bounds":"flush",
  "resolve": {"scale": {"color": "independent", "fill": "independent", "shape": "independent", "strokeWidth": "independent"}, "legend": {"color": "independent"}}},
  {"hconcat": [
   {"width":123,"height":79,
    "title":{"text":"E","offset":-3,"dx":-62},
    "encoding":{
     "x":{"field":"x","type":"quantitative","title":"rucaparib, μM","scale":{"domain":[-0.9,15.3],"nice":false,"zero":false},"axis":{"values":[0,1,2,3,4,5,6,7,8,9,10,11,12,13,14,15],"labelExpr":"datum.value % 5 == 0 ? datum.label : ''","labelPadding":5,"titlePadding":3}},
     "y":{"field":"y","type":"quantitative","title":"% of Control","scale":{"domain":[-10,120],"nice":false,"zero":false},"axis":{"values":[0,5,10,15,20,25,30,35,40,45,50,55,60,65,70,75,80,85,90,95,100,105,110,115],"labelExpr":"datum.value % 25 == 0 ? datum.label : ''"}},
     "color":{"field":"s","type":"nominal","scale":{"domain":["k1","k2"],"range":["#000000","#000000"]},
      "legend":{"legendX":-27.25,"legendY":-24.5,"title":null,"labelOffset":13.75,"labelFontSize":11,
       "labelExpr":"datum.value=='k1'?'rucaparib alone':'rucaparib + CNDAC  (25:1)'"}}
    },
    "layer":[
     {"data":{"name":"cE1"},"mark":{"type":"line","interpolate":"monotone"},"encoding":{"strokeWidth":{"field":"s","type":"nominal","scale":{"domain":["k1","k2"],"range":[1.2,2.8]},"legend":null}}},
     {"data":{"name":"cE1"},"mark":{"type":"point","size":0},"encoding":{"shape":{"field":"s","type":"nominal","scale":{"domain":["k1","k2"],"range":["M-3,0H3M0.75,0A0.75,0.75,0,1,1,-0.75,0A0.75,0.75,0,1,1,0.75,0Z","M-3,0H3M0.75,0A0.75,0.75,0,1,1,-0.75,0A0.75,0.75,0,1,1,0.75,0Z"]},"legend":null},"fill":{"field":"s","type":"nominal","scale":{"domain":["k1","k2"],"range":["#ffffff","#000000"]},"legend":null}}},
     {"data":{"name":"pE1"},"transform":[{"filter":"isValid(datum.e)"}],"mark":{"type":"rule","strokeWidth":1},"encoding":{"y2":{"field":"e"}}},
     {"data":{"name":"pE1"},"transform":[{"filter":"isValid(datum.e)"}],"mark":{"type":"tick","orient":"horizontal","size":5,"thickness":1},"encoding":{"y":{"field":"e","type":"quantitative","title":"% of Control","scale":{"domain":[-10,120],"nice":false,"zero":false}}}},
     {"data":{"name":"pE1"},"mark":{"type":"point","size":26,"strokeWidth":1,"opacity":1,"shape":"circle"},"encoding":{"fill":{"condition":{"test":"datum.s=='k1'","value":"#ffffff"},"value":"#000000"}}}
    ]},
   {"width":122,"height":79,
    "encoding":{
     "x":{"field":"x","type":"quantitative","title":"rucaparib, μM","scale":{"domain":[-0.8,15.3],"nice":false,"zero":false},"axis":{"values":[0,1,2,3,4,5,6,7,8,9,10,11,12,13,14,15],"labelExpr":"datum.value % 5 == 0 ? datum.label : ''","labelPadding":5,"titlePadding":3}},
     "y":{"field":"y","type":"quantitative","title":"% of Control","scale":{"domain":[-10,120],"nice":false,"zero":false},"axis":{"values":[0,5,10,15,20,25,30,35,40,45,50,55,60,65,70,75,80,85,90,95,100,105,110,115],"labelExpr":"datum.value % 25 == 0 ? datum.label : ''"}},
     "color":{"field":"s","type":"nominal","scale":{"domain":["k1","k2"],"range":["#000000","#000000"]},
      "legend":{"legendX":-28.75,"legendY":-24.5,"title":null,"labelOffset":14.25,"labelFontSize":11,
       "labelExpr":"datum.value=='k1'?'rucaparib alone':'rucaparib + CNDAC  (25:1)'"}}
    },
    "layer":[
     {"data":{"name":"cE2"},"mark":{"type":"line","interpolate":"monotone"},"encoding":{"strokeWidth":{"field":"s","type":"nominal","scale":{"domain":["k1","k2"],"range":[1.2,2.8]},"legend":null}}},
     {"data":{"name":"cE2"},"mark":{"type":"point","size":0},"encoding":{"shape":{"field":"s","type":"nominal","scale":{"domain":["k1","k2"],"range":["M-3,0H3M0.75,0A0.75,0.75,0,1,1,-0.75,0A0.75,0.75,0,1,1,0.75,0Z","M-3,0H3M0.75,0A0.75,0.75,0,1,1,-0.75,0A0.75,0.75,0,1,1,0.75,0Z"]},"legend":null},"fill":{"field":"s","type":"nominal","scale":{"domain":["k1","k2"],"range":["#ffffff","#000000"]},"legend":null}}},
     {"data":{"name":"pE2"},"transform":[{"filter":"isValid(datum.e)"}],"mark":{"type":"rule","strokeWidth":1},"encoding":{"y2":{"field":"e"}}},
     {"data":{"name":"pE2"},"transform":[{"filter":"isValid(datum.e)"}],"mark":{"type":"tick","orient":"horizontal","size":5,"thickness":1},"encoding":{"y":{"field":"e","type":"quantitative","title":"% of Control","scale":{"domain":[-10,120],"nice":false,"zero":false}}}},
     {"data":{"name":"pE2"},"mark":{"type":"point","size":26,"strokeWidth":1,"opacity":1,"shape":"circle"},"encoding":{"fill":{"condition":{"test":"datum.s=='k1'","value":"#ffffff"},"value":"#000000"}}}
    ]}
  ], "spacing":66, "bounds":"flush",
  "resolve": {"scale": {"color": "independent", "fill": "independent", "shape": "independent", "strokeWidth": "independent"}, "legend": {"color": "independent"}}}
 ], "spacing":46,
 "resolve": {"scale": {"color": "independent", "fill": "independent", "shape": "independent", "strokeWidth": "independent"}, "legend": {"color": "independent"}}},

 {"hconcat": [
  {"width":299,"height":174.7,"layer":[
   {"data":{"name":"box"},"mark":{"type":"rect","color":"#d9d9d9"},"encoding":{"x":{"datum":0,"type":"quantitative","scale":{"domain":[7.43,100]},"axis":null},"x2":{"datum":26.6},"y":{"field":"lb","type":"quantitative","scale":{"domain":[-0.917,6.362],"reverse":true},"axis":null},"y2":{"datum":0.5}}},
   {"data":{"name":"lines"},"mark":{"type":"rule","strokeWidth":2,"color":"black"},"encoding":{"x":{"datum":0,"type":"quantitative","scale":{"domain":[7.43,100]},"axis":null},"x2":{"datum":100},"y":{"field":"lb","type":"quantitative","scale":{"domain":[-0.917,6.362],"reverse":true},"axis":null}}},
   {"data":{"name":"tD"},"mark":{"type":"text","align":"left","baseline":"middle","fontWeight":"bold","fontSize":10.5},"encoding":{"x":{"datum":3.4,"type":"quantitative","scale":{"domain":[7.43,100]},"axis":null},"y":{"field":"r","type":"quantitative","scale":{"domain":[-0.917,6.362],"reverse":true},"axis":null},"text":{"field":"a"}}},
   {"data":{"name":"tD"},"mark":{"type":"text","align":"left","baseline":"middle","fontWeight":"bold","fontSize":10.5},"encoding":{"x":{"datum":30.3,"type":"quantitative","scale":{"domain":[7.43,100]},"axis":null},"y":{"field":"r","type":"quantitative","scale":{"domain":[-0.917,6.362],"reverse":true},"axis":null},"text":{"field":"b"}}},
   {"data":{"name":"tD"},"mark":{"type":"text","align":"center","baseline":"middle","fontWeight":"bold","fontSize":10.5},"encoding":{"x":{"datum":64.4,"type":"quantitative","scale":{"domain":[7.43,100]},"axis":null},"y":{"field":"r","type":"quantitative","scale":{"domain":[-0.917,6.362],"reverse":true},"axis":null},"text":{"field":"e1"}}},
   {"data":{"name":"tD"},"mark":{"type":"text","align":"center","baseline":"middle","fontWeight":"bold","fontSize":10.5},"encoding":{"x":{"datum":88.2,"type":"quantitative","scale":{"domain":[7.43,100]},"axis":null},"y":{"field":"r","type":"quantitative","scale":{"domain":[-0.917,6.362],"reverse":true},"axis":null},"text":{"field":"e2"}}}
  ]},
  {"width":321,"height":174.7,"layer":[
   {"data":{"name":"box"},"mark":{"type":"rect","color":"#d9d9d9"},"encoding":{"x":{"datum":0,"type":"quantitative","scale":{"domain":[0,100]},"axis":null},"x2":{"datum":30},"y":{"field":"lb","type":"quantitative","scale":{"domain":[-0.917,6.362],"reverse":true},"axis":null},"y2":{"datum":0.5}}},
   {"data":{"name":"lines"},"mark":{"type":"rule","strokeWidth":2,"color":"black"},"encoding":{"x":{"datum":0,"type":"quantitative","scale":{"domain":[0,100]},"axis":null},"x2":{"datum":100},"y":{"field":"lb","type":"quantitative","scale":{"domain":[-0.917,6.362],"reverse":true},"axis":null}}},
   {"data":{"name":"tE"},"mark":{"type":"text","align":"left","baseline":"middle","fontWeight":"bold","fontSize":10.5},"encoding":{"x":{"datum":3.1,"type":"quantitative","scale":{"domain":[0,100]},"axis":null},"y":{"field":"r","type":"quantitative","scale":{"domain":[-0.917,6.362],"reverse":true},"axis":null},"text":{"field":"a"}}},
   {"data":{"name":"tE"},"mark":{"type":"text","align":"left","baseline":"middle","fontWeight":"bold","fontSize":10.5},"encoding":{"x":{"datum":34.3,"type":"quantitative","scale":{"domain":[0,100]},"axis":null},"y":{"field":"r","type":"quantitative","scale":{"domain":[-0.917,6.362],"reverse":true},"axis":null},"text":{"field":"b"}}},
   {"data":{"name":"tE"},"mark":{"type":"text","align":"center","baseline":"middle","fontWeight":"bold","fontSize":10.5},"encoding":{"x":{"datum":68.8,"type":"quantitative","scale":{"domain":[0,100]},"axis":null},"y":{"field":"r","type":"quantitative","scale":{"domain":[-0.917,6.362],"reverse":true},"axis":null},"text":{"field":"e1"}}},
   {"data":{"name":"tE"},"mark":{"type":"text","align":"center","baseline":"middle","fontWeight":"bold","fontSize":10.5},"encoding":{"x":{"datum":89.7,"type":"quantitative","scale":{"domain":[0,100]},"axis":null},"y":{"field":"r","type":"quantitative","scale":{"domain":[-0.917,6.362],"reverse":true},"axis":null},"text":{"field":"e2"}}}
  ]}
 ], "spacing":95, "bounds":"flush"},

 {"hconcat": [
  {"hconcat": [
   {"width":125,"height":76,
    "title":{"text":"F","offset":2.3,"dx":-66},
    "encoding":{
     "x":{"field":"x","type":"quantitative","title":"talazoparib, nM","scale":{"domain":[-0.017,0.508],"nice":false,"zero":false},"axis":{"values":[0,0.05,0.1,0.15,0.2,0.25,0.3,0.35,0.4,0.45,0.5],"format":".1f","labelExpr":"round(datum.value*100) % 10 == 0 ? datum.label : ''"}},
     "y":{"field":"y","type":"quantitative","title":"% of Control","scale":{"domain":[-14,110],"nice":false,"zero":false},"axis":{"values":[0,5,10,15,20,25,30,35,40,45,50,55,60,65,70,75,80,85,90,95,100,105,110],"labelExpr":"datum.value % 25 == 0 ? datum.label : ''"}},
     "color":{"field":"s","type":"nominal","scale":{"domain":["k1","k2"],"range":["#000000","#000000"]},
      "legend":{"legendX":-33.75,"legendY":-34.5,"title":null,"labelOffset":14.25,"labelFontSize":11,
       "labelExpr":"datum.value=='k1'?'talazoparib alone':'talazoparib + CNDAC (1:125)'"}}
    },
    "layer":[
     {"data":{"name":"cF1"},"mark":{"type":"line","interpolate":"monotone"},"encoding":{"strokeWidth":{"field":"s","type":"nominal","scale":{"domain":["k1","k2"],"range":[1.2,2.8]},"legend":null}}},
     {"data":{"name":"cF1"},"mark":{"type":"point","size":0},"encoding":{"shape":{"field":"s","type":"nominal","scale":{"domain":["k1","k2"],"range":["M-3,0H3M-0.92,0.75L0,-0.92L0.92,0.75Z","M-3,0H3M-0.92,0.75L0,-0.92L0.92,0.75Z"]},"legend":null},"fill":{"field":"s","type":"nominal","scale":{"domain":["k1","k2"],"range":["#ffffff","#000000"]},"legend":null}}},
     {"data":{"name":"pF1"},"transform":[{"filter":"isValid(datum.e)"}],"mark":{"type":"rule","strokeWidth":1},"encoding":{"y2":{"field":"e"}}},
     {"data":{"name":"pF1"},"transform":[{"filter":"isValid(datum.e)"}],"mark":{"type":"tick","orient":"horizontal","size":5,"thickness":1},"encoding":{"y":{"field":"e","type":"quantitative","title":"% of Control","scale":{"domain":[-14,110],"nice":false,"zero":false}}}},
     {"data":{"name":"pF1"},"mark":{"type":"point","size":24,"strokeWidth":1,"opacity":1,"shape":"triangle-up"},"encoding":{"fill":{"condition":{"test":"datum.s=='k1'","value":"#ffffff"},"value":"#000000"}}}
    ]},
   {"width":119,"height":76,
    "encoding":{
     "x":{"field":"x","type":"quantitative","title":"talazoparib, nM","scale":{"domain":[-0.009,0.513],"nice":false,"zero":false},"axis":{"values":[0,0.05,0.1,0.15,0.2,0.25,0.3,0.35,0.4,0.45,0.5],"format":".1f","labelExpr":"round(datum.value*100) % 10 == 0 ? datum.label : ''"}},
     "y":{"field":"y","type":"quantitative","title":"% of Control","scale":{"domain":[-14,110],"nice":false,"zero":false},"axis":{"values":[0,5,10,15,20,25,30,35,40,45,50,55,60,65,70,75,80,85,90,95,100,105,110],"labelExpr":"datum.value % 25 == 0 ? datum.label : ''"}},
     "color":{"field":"s","type":"nominal","scale":{"domain":["k1","k2"],"range":["#000000","#000000"]},
      "legend":{"legendX":-35.25,"legendY":-34.5,"title":null,"labelOffset":14.75,"labelFontSize":11,
       "labelExpr":"datum.value=='k1'?'talazoparib alone':'talazoparib + CNDAC (1:125)'"}}
    },
    "layer":[
     {"data":{"name":"cF2"},"mark":{"type":"line","interpolate":"monotone"},"encoding":{"strokeWidth":{"field":"s","type":"nominal","scale":{"domain":["k1","k2"],"range":[1.2,2.8]},"legend":null}}},
     {"data":{"name":"cF2"},"mark":{"type":"point","size":0},"encoding":{"shape":{"field":"s","type":"nominal","scale":{"domain":["k1","k2"],"range":["M-3,0H3M-0.92,0.75L0,-0.92L0.92,0.75Z","M-3,0H3M-0.92,0.75L0,-0.92L0.92,0.75Z"]},"legend":null},"fill":{"field":"s","type":"nominal","scale":{"domain":["k1","k2"],"range":["#ffffff","#000000"]},"legend":null}}},
     {"data":{"name":"pF2"},"transform":[{"filter":"isValid(datum.e)"}],"mark":{"type":"rule","strokeWidth":1},"encoding":{"y2":{"field":"e"}}},
     {"data":{"name":"pF2"},"transform":[{"filter":"isValid(datum.e)"}],"mark":{"type":"tick","orient":"horizontal","size":5,"thickness":1},"encoding":{"y":{"field":"e","type":"quantitative","title":"% of Control","scale":{"domain":[-14,110],"nice":false,"zero":false}}}},
     {"data":{"name":"pF2"},"mark":{"type":"point","size":24,"strokeWidth":1,"opacity":1,"shape":"triangle-up"},"encoding":{"fill":{"condition":{"test":"datum.s=='k1'","value":"#ffffff"},"value":"#000000"}}}
    ]}
  ], "spacing":57, "bounds":"flush",
  "resolve": {"scale": {"color": "independent", "fill": "independent", "shape": "independent", "strokeWidth": "independent"}, "legend": {"color": "independent"}}},
  {"hconcat": [
   {"width":120,"height":76,
    "title":{"text":"G","offset":3.3,"dx":-62},
    "encoding":{
     "x":{"field":"x","type":"quantitative","title":"talazoparib, nM","scale":{"domain":[-4.3,69.9],"nice":false,"zero":false},"axis":{"values":[0,10,20,30,40,50,60],"labelExpr":"datum.value % 20 == 0 ? datum.label : ''"}},
     "y":{"field":"y","type":"quantitative","title":"% of Control","scale":{"domain":[-14,110],"nice":false,"zero":false},"axis":{"values":[0,5,10,15,20,25,30,35,40,45,50,55,60,65,70,75,80,85,90,95,100,105,110],"labelExpr":"datum.value % 25 == 0 ? datum.label : ''"}},
     "color":{"field":"s","type":"nominal","scale":{"domain":["k1","k2"],"range":["#000000","#000000"]},
      "legend":{"legendX":-31.25,"legendY":-33.5,"title":null,"labelOffset":13.75,"labelFontSize":11,
       "labelExpr":"datum.value=='k1'?'talazopparib alone':'talazoparib + CNDAC  (1:50)'"}}
    },
    "layer":[
     {"data":{"name":"cG1"},"mark":{"type":"line","interpolate":"monotone"},"encoding":{"strokeWidth":{"field":"s","type":"nominal","scale":{"domain":["k1","k2"],"range":[1.2,2.8]},"legend":null}}},
     {"data":{"name":"cG1"},"mark":{"type":"point","size":0},"encoding":{"shape":{"field":"s","type":"nominal","scale":{"domain":["k1","k2"],"range":["M-3,0H3M0.75,0A0.75,0.75,0,1,1,-0.75,0A0.75,0.75,0,1,1,0.75,0Z","M-3,0H3M0.75,0A0.75,0.75,0,1,1,-0.75,0A0.75,0.75,0,1,1,0.75,0Z"]},"legend":null},"fill":{"field":"s","type":"nominal","scale":{"domain":["k1","k2"],"range":["#ffffff","#000000"]},"legend":null}}},
     {"data":{"name":"pG1"},"transform":[{"filter":"isValid(datum.e)"}],"mark":{"type":"rule","strokeWidth":1},"encoding":{"y2":{"field":"e"}}},
     {"data":{"name":"pG1"},"transform":[{"filter":"isValid(datum.e)"}],"mark":{"type":"tick","orient":"horizontal","size":5,"thickness":1},"encoding":{"y":{"field":"e","type":"quantitative","title":"% of Control","scale":{"domain":[-14,110],"nice":false,"zero":false}}}},
     {"data":{"name":"pG1"},"mark":{"type":"point","size":26,"strokeWidth":1,"opacity":1,"shape":"circle"},"encoding":{"fill":{"condition":{"test":"datum.s=='k1'","value":"#ffffff"},"value":"#000000"}}}
    ]},
   {"width":120,"height":76,
    "encoding":{
     "x":{"field":"x","type":"quantitative","title":"talazoparib, nM","scale":{"domain":[-3.7,70.5],"nice":false,"zero":false},"axis":{"values":[0,10,20,30,40,50,60,70],"labelExpr":"datum.value % 20 == 0 ? datum.label : ''"}},
     "y":{"field":"y","type":"quantitative","title":"% of Control","scale":{"domain":[-14,110],"nice":false,"zero":false},"axis":{"values":[0,5,10,15,20,25,30,35,40,45,50,55,60,65,70,75,80,85,90,95,100,105,110],"labelExpr":"datum.value % 25 == 0 ? datum.label : ''"}},
     "color":{"field":"s","type":"nominal","scale":{"domain":["k1","k2"],"range":["#000000","#000000"]},
      "legend":{"legendX":-30.25,"legendY":-33.5,"title":null,"labelOffset":14.75,"labelFontSize":11,
       "labelExpr":"datum.value=='k1'?'talazopparib alone':'talazoparib + CNDAC  (1:50)'"}}
    },
    "layer":[
     {"data":{"name":"cG2"},"mark":{"type":"line","interpolate":"monotone"},"encoding":{"strokeWidth":{"field":"s","type":"nominal","scale":{"domain":["k1","k2"],"range":[1.2,2.8]},"legend":null}}},
     {"data":{"name":"cG2"},"mark":{"type":"point","size":0},"encoding":{"shape":{"field":"s","type":"nominal","scale":{"domain":["k1","k2"],"range":["M-3,0H3M0.75,0A0.75,0.75,0,1,1,-0.75,0A0.75,0.75,0,1,1,0.75,0Z","M-3,0H3M0.75,0A0.75,0.75,0,1,1,-0.75,0A0.75,0.75,0,1,1,0.75,0Z"]},"legend":null},"fill":{"field":"s","type":"nominal","scale":{"domain":["k1","k2"],"range":["#ffffff","#000000"]},"legend":null}}},
     {"data":{"name":"pG2"},"transform":[{"filter":"isValid(datum.e)"}],"mark":{"type":"rule","strokeWidth":1},"encoding":{"y2":{"field":"e"}}},
     {"data":{"name":"pG2"},"transform":[{"filter":"isValid(datum.e)"}],"mark":{"type":"tick","orient":"horizontal","size":5,"thickness":1},"encoding":{"y":{"field":"e","type":"quantitative","title":"% of Control","scale":{"domain":[-14,110],"nice":false,"zero":false}}}},
     {"data":{"name":"pG2"},"mark":{"type":"point","size":26,"strokeWidth":1,"opacity":1,"shape":"circle"},"encoding":{"fill":{"condition":{"test":"datum.s=='k1'","value":"#ffffff"},"value":"#000000"}}}
    ]}
  ], "spacing":69, "bounds":"flush",
  "resolve": {"scale": {"color": "independent", "fill": "independent", "shape": "independent", "strokeWidth": "independent"}, "legend": {"color": "independent"}}}
 ], "spacing":28,
 "resolve": {"scale": {"color": "independent", "fill": "independent", "shape": "independent", "strokeWidth": "independent"}, "legend": {"color": "independent"}}},

 {"hconcat": [
  {"width":299,"height":159,"layer":[
   {"data":{"name":"box"},"mark":{"type":"rect","color":"#d9d9d9"},"encoding":{"x":{"datum":0,"type":"quantitative","scale":{"domain":[7.43,100]},"axis":null},"x2":{"datum":26.6},"y":{"field":"lb","type":"quantitative","scale":{"domain":[-0.82,5.6],"reverse":true},"axis":null},"y2":{"datum":0.5}}},
   {"data":{"name":"lines"},"mark":{"type":"rule","strokeWidth":2,"color":"black"},"encoding":{"x":{"datum":0,"type":"quantitative","scale":{"domain":[7.43,100]},"axis":null},"x2":{"datum":100},"y":{"field":"lb","type":"quantitative","scale":{"domain":[-0.82,5.6],"reverse":true},"axis":null}}},
   {"data":{"name":"tF"},"mark":{"type":"text","align":"left","baseline":"middle","fontWeight":"bold","fontSize":10.5},"encoding":{"x":{"datum":3.4,"type":"quantitative","scale":{"domain":[7.43,100]},"axis":null},"y":{"field":"r","type":"quantitative","scale":{"domain":[-0.82,5.6],"reverse":true},"axis":null},"text":{"field":"a"}}},
   {"data":{"name":"tF"},"mark":{"type":"text","align":"left","baseline":"middle","fontWeight":"bold","fontSize":10.5},"encoding":{"x":{"datum":30.3,"type":"quantitative","scale":{"domain":[7.43,100]},"axis":null},"y":{"field":"r","type":"quantitative","scale":{"domain":[-0.82,5.6],"reverse":true},"axis":null},"text":{"field":"b"}}},
   {"data":{"name":"tF"},"mark":{"type":"text","align":"center","baseline":"middle","fontWeight":"bold","fontSize":10.5},"encoding":{"x":{"datum":64.4,"type":"quantitative","scale":{"domain":[7.43,100]},"axis":null},"y":{"field":"r","type":"quantitative","scale":{"domain":[-0.82,5.6],"reverse":true},"axis":null},"text":{"field":"e1"}}},
   {"data":{"name":"tF"},"mark":{"type":"text","align":"center","baseline":"middle","fontWeight":"bold","fontSize":10.5},"encoding":{"x":{"datum":88.2,"type":"quantitative","scale":{"domain":[7.43,100]},"axis":null},"y":{"field":"r","type":"quantitative","scale":{"domain":[-0.82,5.6],"reverse":true},"axis":null},"text":{"field":"e2"}}}
  ]},
  {"width":321,"height":159,"layer":[
   {"data":{"name":"box"},"mark":{"type":"rect","color":"#d9d9d9"},"encoding":{"x":{"datum":0,"type":"quantitative","scale":{"domain":[0,100]},"axis":null},"x2":{"datum":30},"y":{"field":"lb","type":"quantitative","scale":{"domain":[-0.82,5.6],"reverse":true},"axis":null},"y2":{"datum":0.5}}},
   {"data":{"name":"lines"},"mark":{"type":"rule","strokeWidth":2,"color":"black"},"encoding":{"x":{"datum":0,"type":"quantitative","scale":{"domain":[0,100]},"axis":null},"x2":{"datum":100},"y":{"field":"lb","type":"quantitative","scale":{"domain":[-0.82,5.6],"reverse":true},"axis":null}}},
   {"data":{"name":"tG"},"mark":{"type":"text","align":"left","baseline":"middle","fontWeight":"bold","fontSize":10.5},"encoding":{"x":{"datum":3.1,"type":"quantitative","scale":{"domain":[0,100]},"axis":null},"y":{"field":"r","type":"quantitative","scale":{"domain":[-0.82,5.6],"reverse":true},"axis":null},"text":{"field":"a"}}},
   {"data":{"name":"tG"},"mark":{"type":"text","align":"left","baseline":"middle","fontWeight":"bold","fontSize":10.5},"encoding":{"x":{"datum":34.3,"type":"quantitative","scale":{"domain":[0,100]},"axis":null},"y":{"field":"r","type":"quantitative","scale":{"domain":[-0.82,5.6],"reverse":true},"axis":null},"text":{"field":"b"}}},
   {"data":{"name":"tG"},"mark":{"type":"text","align":"center","baseline":"middle","fontWeight":"bold","fontSize":10.5},"encoding":{"x":{"datum":68.8,"type":"quantitative","scale":{"domain":[0,100]},"axis":null},"y":{"field":"r","type":"quantitative","scale":{"domain":[-0.82,5.6],"reverse":true},"axis":null},"text":{"field":"e1"}}},
   {"data":{"name":"tG"},"mark":{"type":"text","align":"center","baseline":"middle","fontWeight":"bold","fontSize":10.5},"encoding":{"x":{"datum":89.7,"type":"quantitative","scale":{"domain":[0,100]},"axis":null},"y":{"field":"r","type":"quantitative","scale":{"domain":[-0.82,5.6],"reverse":true},"axis":null},"text":{"field":"e2"}}}
  ]}
 ], "spacing":95, "bounds":"flush"}
]
}
